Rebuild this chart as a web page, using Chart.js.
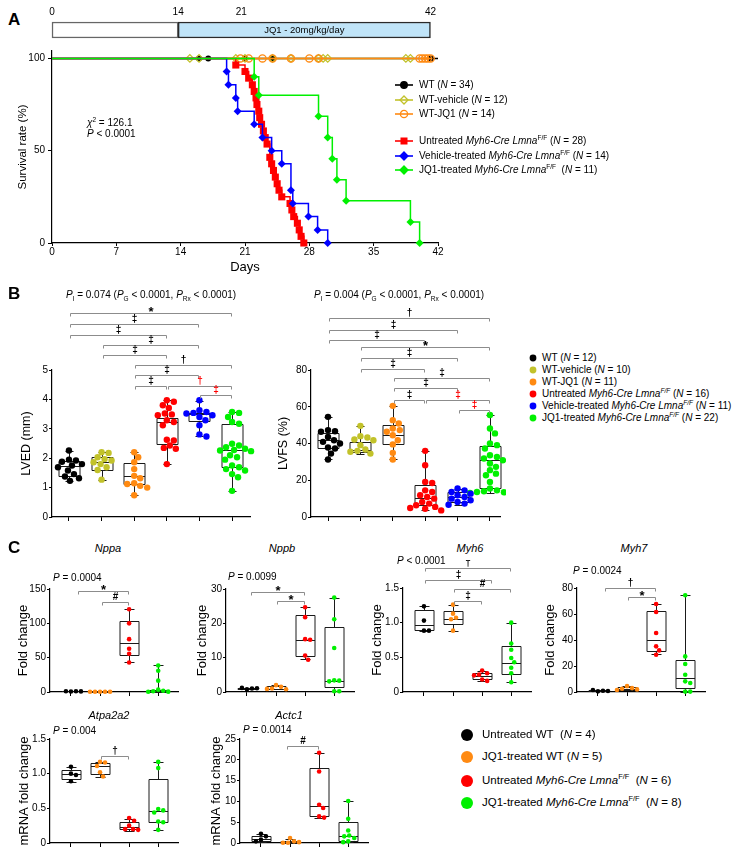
<!DOCTYPE html>
<html>
<head>
<meta charset="utf-8">
<script src="https://cdn.jsdelivr.net/npm/chart.js@4.4.1/dist/chart.umd.min.js"></script>
<style>
  body { margin: 0; width: 738px; height: 867px; position: relative; overflow: hidden; background: #fff;
         font-family: "Liberation Sans", Arial, Helvetica, sans-serif; color: #000; }
  canvas { position: absolute; }
  .t { position: absolute; white-space: nowrap; line-height: 1; font-size: 10px; }
  .t sub, .t sup { font-size: 65%; line-height: 0; }
  svg { position: absolute; overflow: visible; }
</style>
</head>
<body>
<script>
// ---------------- panel A : survival ----------------
const kmTicks = [0, 7, 14, 21, 28, 35, 42];
const kmYTicks = [0, 50, 100];
const timelineTicks = [0, 14, 21, 42];
const timelinePre = [0, 14];
const timelineDose = [14, 42];

const untreatedDays = [20.0, 21.0, 21.4, 21.8, 22.0, 22.2, 22.3, 22.5, 22.6, 22.8, 23.0, 23.2, 23.4, 23.7, 23.9, 24.1, 24.3, 24.5, 24.7, 25.0, 25.9, 26.1, 26.3, 26.7, 26.9, 27.1, 27.4];
const untreatedSurv = [96.4, 92.9, 89.3, 85.7, 82.1, 78.6, 75.0, 71.4, 67.9, 64.3, 60.7, 57.1, 53.6, 46.4, 42.9, 39.3, 35.7, 32.1, 28.6, 25.0, 21.4, 17.9, 14.3, 10.7, 7.1, 3.6, 0];
const vehicleDays = [19.0, 19.2, 20.0, 20.2, 22.0, 22.9, 23.9, 25.0, 26.0, 26.2, 27.9, 28.9, 30.0];
const vehicleSurv = [92.9, 85.7, 78.6, 71.4, 64.3, 57.1, 50.0, 42.9, 28.6, 21.4, 14.3, 7.1, 0];
const jq1Days = [22.0, 22.5, 29.0, 30.0, 30.5, 31.0, 32.0, 39.0, 40.0];
const jq1Surv = [90, 80, 68.6, 57.1, 45.7, 34.3, 22.9, 11.4, 0];
const censorWT = [16, 17, 21, 24, 41.2];
const censorWTveh = [15, 16, 20, 21, 24, 26, 29, 29.5, 30, 38.5, 39];
const censorWTjq1 = [20.5, 21.4, 22.9, 24, 26, 28, 29, 40, 40.3, 40.6, 40.9, 41.2];

// ---------------- panel B : echo ----------------
const lvedTicks = [0, 1, 2, 3, 4, 5];
const lvedPoints = [
  [2.26, 1.95, 1.92, 1.88, 1.8, 1.75, 1.69, 1.58, 1.46, 1.38, 1.32, 1.23],
  [2.2, 2.18, 2.03, 1.97, 1.92, 1.86, 1.8, 1.69, 1.6, 1.27],
  [2.2, 2.03, 1.86, 1.63, 1.4, 1.32, 1.15, 1.12, 1.06, 1.0, 0.74],
  [3.97, 3.92, 3.8, 3.71, 3.52, 3.49, 3.46, 3.29, 3.23, 3.12, 2.63, 2.6, 2.43, 2.35, 2.32, 1.8],
  [3.97, 3.63, 3.57, 3.54, 3.52, 3.46, 3.4, 3.29, 3.12, 2.81, 2.74],
  [3.57, 3.54, 3.4, 3.23, 3.17, 2.49, 2.43, 2.37, 2.32, 2.28, 2.26, 2.24, 2.1, 2.03, 1.95, 1.75, 1.69, 1.63, 1.58, 1.46, 1.35, 0.89]
];
// min, q1, median, q3, max
const lvedBoxes = [
  [1.22, 1.4, 1.72, 1.9, 2.26], [1.27, 1.6, 1.86, 2.03, 2.2], [0.75, 1.12, 1.4, 1.83, 2.2],
  [1.8, 2.49, 3.23, 3.38, 3.98], [2.74, 3.27, 3.5, 3.55, 3.96], [0.9, 1.69, 2.28, 3.15, 3.57]
];
const lvfsTicks = [0, 20, 40, 60, 80];
const lvfsPoints = [
  [54.5, 47.3, 46.7, 46.4, 43.6, 41.8, 40.9, 40, 37.8, 37.3, 34.5, 31.3],
  [49.6, 44, 43.3, 42.2, 41.8, 39.1, 36.7, 36, 35.5, 34.5],
  [60.5, 52.7, 50.9, 48.2, 47.3, 46.4, 44.5, 41.8, 39.5, 34.9, 31.3],
  [36, 28.2, 19.1, 18.5, 14.5, 13.6, 11.8, 10.9, 10, 8.2, 7.3, 6.4, 5.5, 4.9, 4.5, 3.6],
  [15.5, 14.5, 13.6, 12.7, 11.8, 10.9, 10, 9.1, 8.2, 7.3, 6.7],
  [55.5, 48.2, 45.5, 40, 39.1, 37.3, 33.6, 32.7, 31.8, 30.9, 29.1, 27.3, 25.5, 23.6, 22.7, 19.1, 15.5, 14.5, 14, 13.6, 13.5, 13.1]
];
const lvfsBoxes = [
  [31.3, 37.5, 41.8, 45.5, 54.5], [34.2, 35.5, 36.4, 40.9, 49.6], [31.3, 39.5, 44.5, 50, 60.5],
  [3.6, 6.4, 10.4, 17.3, 36], [6.7, 8.2, 10.9, 13.6, 15.5], [13.1, 16, 30.9, 38.5, 55.5]
];

// ---------------- panel C : qPCR ----------------
const nppaTicks = [0, 50, 100, 150];
const nppaPoints = [[0.8, 1.2, 1.0, 0.9], [0.3, 0.3, 0.3, 0.3, 0.3], [120.5, 100, 77, 63, 55.6, 43], [38.7, 31, 16.5, 3.4, 1.9, 1, 0.5, 0.3]];
const nppaBoxes = [[0.8, 0.85, 0.95, 1.1, 1.2], [0.3, 0.3, 0.3, 0.3, 0.3], [43, 54, 71, 104, 121], [0.3, 0.6, 1.5, 3.2, 38.7]];
const nppbTicks = [0, 10, 20, 30];
const nppbPoints = [[0.8, 1.0, 1.2, 1.1], [2.0, 1.5, 1.0, 0.9, 0.8], [24.7, 21.8, 15.4, 15.2, 10.6, 9.4], [27.5, 21.2, 12.8, 3.4, 3.3, 3.1, 0.2, 0.2]];
const nppbBoxes = [[0.8, 0.9, 1.05, 1.15, 1.2], [0.8, 0.85, 1.0, 1.75, 2.0], [9.5, 10.5, 15.2, 22.3, 24.7], [0.2, 1.4, 3.3, 18.8, 27.5]];
const myh6Ticks = [0, 0.5, 1, 1.5];
const myh6Points = [[1.235, 1.03, 0.885, 0.885], [1.26, 1.13, 1.07, 1.05, 0.885], [0.31, 0.27, 0.25, 0.24, 0.18, 0.16], [1.0, 0.7, 0.61, 0.49, 0.43, 0.35, 0.27, 0.14]];
const myh6Boxes = [[0.88, 0.9, 0.96, 1.18, 1.235], [0.88, 0.98, 1.05, 1.17, 1.26], [0.16, 0.19, 0.23, 0.28, 0.31], [0.14, 0.26, 0.42, 0.67, 1.0]];
const myh7Ticks = [0, 20, 40, 60, 80];
const myh7Points = [[0.5, 1.0, 1.5, 0.8], [4.5, 3, 2.5, 2, 1.5], [67.7, 61.5, 45.4, 35.1, 32, 28.7], [74.4, 27.4, 21.5, 13.3, 8.2, 6.9, 0.3, 0.3]];
const myh7Boxes = [[0.4, 0.5, 0.9, 1.3, 1.5], [1.5, 1.8, 2.5, 4, 4.5], [29.5, 31.8, 40.3, 62.6, 67.7], [0, 3.1, 10.8, 24.9, 74.4]];
const atpTicks = [0, 0.5, 1, 1.5];
const atpPoints = [[1.1, 1.0, 0.98, 0.89], [1.17, 1.16, 1.11, 1.02, 0.96], [0.36, 0.32, 0.25, 0.2, 0.2, 0.19], [1.17, 1.08, 0.49, 0.47, 0.44, 0.31, 0.3, 0.19]];
const atpBoxes = [[0.88, 0.92, 1.0, 1.05, 1.1], [0.95, 1.0, 1.11, 1.16, 1.17], [0.18, 0.2, 0.23, 0.3, 0.35], [0.19, 0.3, 0.46, 0.92, 1.17]];
const actcTicks = [0, 5, 10, 15, 20, 25];
const actcPoints = [[2.2, 1.6, 0.8, 0.4], [1.2, 0.4, 0.05, 0.05, 0.2], [21.7, 17.2, 9.2, 8.4, 6.4, 6.1], [10.1, 5.8, 3.0, 1.8, 1.6, 1.2, 0.4, 0.2]];
const actcBoxes = [[0.3, 0.4, 1.0, 1.6, 2.2], [0, 0.05, 0.2, 0.5, 1.0], [5.9, 6.4, 8.8, 18.1, 21.7], [0.2, 0.6, 1.6, 5.0, 10.1]];

// ---------------- styling ----------------
const FONT = '"Liberation Sans", Arial, Helvetica, sans-serif';
Chart.defaults.font.family = FONT;
Chart.defaults.color = '#000';
Chart.defaults.animation = false;
Chart.defaults.plugins.legend.display = false;
Chart.defaults.plugins.tooltip.enabled = false;

const BLACK = '#000000', OLIVE = '#c2c22a', ORANGE = '#ff8a12', RED = '#ff0000', BLUE = '#0000ff', GREEN = '#00f000';
const colorsB = [BLACK, OLIVE, ORANGE, RED, BLUE, GREEN];
const colorsC = [BLACK, ORANGE, RED, GREEN];

function place(cv, g, yw) {
  const w = Math.round(g.r - g.l + yw + g.pr), h = Math.round(g.b - g.t + g.pt + g.xh);
  cv.width = w; cv.height = h;
  cv.style.left = (g.l - yw) + 'px'; cv.style.top = (g.t - g.pt) + 'px';
  cv.style.width = w + 'px'; cv.style.height = h + 'px';
}
function newCanvas() {
  const c = document.createElement('canvas');
  document.body.appendChild(c);
  return c;
}
function text(x, y, html, css, center) {
  const d = document.createElement('div');
  d.className = 't';
  d.innerHTML = html;
  d.style.left = x + 'px'; d.style.top = y + 'px';
  d.style.transform = center ? 'translate(-50%,-50%)' : 'translateY(-50%)';
  if (css) d.style.cssText += css;
  document.body.appendChild(d);
}
function svg(x, y, w, h, inner) {
  document.body.insertAdjacentHTML('beforeend',
    `<svg style="left:${x}px;top:${y}px" width="${w}" height="${h}" viewBox="0 0 ${w} ${h}">${inner}</svg>`);
}

// ---------------- timeline bar ----------------
const tl = newCanvas();
tl.width = 398; tl.height = 37;
Object.assign(tl.style, {left: '42px', top: '2px', width: '398px', height: '37px'});
new Chart(tl, {
  type: 'bar',
  data: {
    labels: [''],
    datasets: [
      {data: [timelineDose], backgroundColor: '#c0e4f8', borderColor: '#2a2a2a', borderWidth: 1.5, borderSkipped: false, grouped: false, barPercentage: 1, categoryPercentage: 1, clip: false},
      {data: [timelinePre], backgroundColor: '#ffffff', borderColor: '#666', borderWidth: 1.5, borderSkipped: false, grouped: false, barPercentage: 1, categoryPercentage: 1, clip: false}
    ]
  },
  options: {
    indexAxis: 'y', responsive: false,
    layout: {padding: {left: 10, right: 2, top: 2, bottom: 1}},
    scales: {
      x: {type: 'linear', position: 'top', min: 0, max: 42,
          afterBuildTicks: s => { s.ticks = timelineTicks.map(v => ({value: v})); },
          afterFit: s => { s.height = 18; },
          ticks: {font: {size: 10}, padding: 4, autoSkip: false, maxRotation: 0},
          grid: {display: false, drawTicks: false}, border: {display: false}},
      y: {display: false}
    }
  },
  plugins: [{
    id: 'dose',
    afterDatasetsDraw(chart) {
      const {ctx, chartArea: a, scales: {x}} = chart;
      ctx.save();
      ctx.font = '9.5px ' + FONT; ctx.fillStyle = '#000'; ctx.textAlign = 'center'; ctx.textBaseline = 'middle';
      ctx.fillText('JQ1 - 20mg/kg/day', x.getPixelForValue((timelineDose[0] + timelineDose[1]) / 2), (a.top + a.bottom) / 2 + 0.5);
      ctx.restore();
    }
  }]
});

// ---------------- survival chart ----------------
function kmSeries(days, surv) {
  return [{x: 0, y: 100}].concat(days.map((d, i) => ({x: d, y: surv[i]})));
}
function censorSeries(days, end) {
  return [{x: 0, y: 100}].concat(days.map(d => ({x: d, y: 100})), [{x: end, y: 100}]);
}
const gA = {l: 52, r: 438, t: 50, b: 243, pt: 8, pr: 12, xh: 36, titleX: 23, titleSize: 11.5};
const cvA = newCanvas();
const ywA = Math.round(gA.l - (gA.titleX - gA.titleSize * 0.6 - 4));
place(cvA, gA, ywA);
function kmSet(data, color, style, r, fill, stepped, lastIdx) {
  return {
    data, stepped, borderColor: color, borderWidth: 1.5, fill: false, clip: false,
    pointStyle: style, pointBorderColor: color, pointBackgroundColor: fill ? color : 'rgba(0,0,0,0)',
    pointBorderWidth: fill ? 0 : 1.3,
    pointRadius: ctx => (ctx.dataIndex === 0 || ctx.dataIndex === lastIdx) ? 0 : r
  };
}
new Chart(cvA, {
  type: 'line',
  data: {
    datasets: [
      kmSet(kmSeries(jq1Days, jq1Surv), GREEN, 'rectRot', 4, true, true, -1),
      kmSet(kmSeries(vehicleDays, vehicleSurv), BLUE, 'rectRot', 4, true, true, -1),
      kmSet(kmSeries(untreatedDays, untreatedSurv), RED, 'rect', 5, true, true, -1),
      kmSet(censorSeries(censorWTjq1, 41.4), ORANGE, 'circle', 3.6, false, false, censorWTjq1.length + 1),
      kmSet(censorSeries(censorWTveh, 39.2), OLIVE, 'rectRot', 3.8, false, false, censorWTveh.length + 1),
      kmSet(censorSeries(censorWT, 42), BLACK, 'circle', 3, true, false, censorWT.length + 1)
    ]
  },
  options: {
    responsive: false,
    layout: {padding: {left: 0, top: gA.pt, right: gA.pr, bottom: 0}},
    scales: {
      x: {type: 'linear', min: 0, max: 42,
          afterBuildTicks: s => { s.ticks = kmTicks.map(v => ({value: v})); },
          afterFit: s => { s.height = gA.xh; },
          ticks: {font: {size: 10}, padding: 0, autoSkip: false, maxRotation: 0},
          grid: {drawOnChartArea: false, tickLength: 3, color: '#000'},
          border: {color: '#000', width: 1.2},
          title: {display: true, text: 'Days', font: {size: 13}, padding: {top: 0, bottom: 4}}},
      y: {min: 0, max: 104,
          afterBuildTicks: s => { s.ticks = kmYTicks.map(v => ({value: v})); },
          afterFit: s => { s.width = ywA; },
          ticks: {font: {size: 10}, padding: 3, autoSkip: false},
          grid: {drawOnChartArea: false, tickLength: 4, color: '#000'},
          border: {color: '#000', width: 1.2},
          title: {display: true, text: 'Survival rate (%)', font: {size: gA.titleSize}, padding: {top: 4, bottom: 4}}}
    }
  }
});

// ---------------- box plots ----------------
function swarm(pys, dmin) {
  const placed = [];
  return pys.map(py => {
    let off = 0;
    for (let k = 0; k < 80; k++) {
      const c = (k % 2 ? 1 : -1) * Math.ceil(k / 2);
      if (placed.every(p => (p[0] - c) ** 2 + (p[1] - py) ** 2 >= dmin * dmin)) { off = c; break; }
    }
    placed.push([off, py]);
    return off;
  });
}

function boxPlugin(boxes, brackets, st) {
  return {
    id: 'boxes',
    beforeDatasetsDraw(chart) {
      const {ctx, scales: {x, y}} = chart;
      ctx.save();
      ctx.strokeStyle = '#1a1a1a'; ctx.lineWidth = 1;
      boxes.forEach((s, i) => {
        const cx = Math.round(x.getPixelForValue(i)) + 0.5;
        const [mn, q1, md, q3, mx] = s.map(v => Math.round(y.getPixelForValue(v)) + 0.5);
        const hb = st.boxW / 2, hc = st.capW / 2;
        ctx.beginPath();
        ctx.rect(cx - hb, q3, st.boxW, q1 - q3);
        ctx.moveTo(cx - hb, md); ctx.lineTo(cx + hb, md);
        ctx.moveTo(cx, q3); ctx.lineTo(cx, mx);
        ctx.moveTo(cx - hc, mx); ctx.lineTo(cx + hc, mx);
        ctx.moveTo(cx, q1); ctx.lineTo(cx, mn);
        ctx.moveTo(cx - hc, mn); ctx.lineTo(cx + hc, mn);
        ctx.stroke();
      });
      ctx.restore();
    },
    afterDraw(chart) {
      const {ctx, chartArea: a, scales: {x}} = chart;
      ctx.save();
      brackets.forEach(([from, to, sym, dy, col]) => {
        const x1 = Math.round(x.getPixelForValue(from)) + 1.5, x2 = Math.round(x.getPixelForValue(to)) - 0.5;
        const yy = Math.round(a.top + dy) + 0.5;
        ctx.strokeStyle = '#8c8c8c'; ctx.lineWidth = 1;
        ctx.beginPath();
        ctx.moveTo(x1, yy + 3); ctx.lineTo(x1, yy); ctx.lineTo(x2, yy); ctx.lineTo(x2, yy + 3);
        ctx.stroke();
        ctx.fillStyle = col || '#000';
        ctx.textAlign = 'center'; ctx.textBaseline = 'bottom';
        if (sym === '*') { ctx.font = 'bold 13px ' + FONT; ctx.fillText(sym, (x1 + x2) / 2, yy + 5); }
        else { ctx.font = 'bold 10px ' + FONT; ctx.fillText(sym, (x1 + x2) / 2, yy - 0.5); }
      });
      ctx.restore();
    }
  };
}

function boxChart(g, ticks, yTitle, points, boxes, brackets, colors, st) {
  const cv = newCanvas();
  const yw = Math.round(g.l - (g.titleX - st.titleSize * 0.6 - 4));
  place(cv, g, yw);
  const yMax = ticks[ticks.length - 1];
  const catPx = (g.r - g.l) / (g.xMax - g.xMin);
  const pxPerUnit = (g.b - g.t) / yMax;
  const datasets = points.map((vals, i) => {
    const offs = swarm(vals.map(v => v * pxPerUnit), st.dmin);
    return {
      data: vals.map((v, j) => ({x: i + offs[j] / catPx, y: v})),
      backgroundColor: colors[i], borderColor: colors[i], pointRadius: st.r, pointBorderWidth: 0, clip: false
    };
  });
  new Chart(cv, {
    type: 'scatter',
    data: {datasets},
    options: {
      responsive: false,
      layout: {padding: {left: 0, top: g.pt, right: g.pr, bottom: 0}},
      scales: {
        x: {type: 'linear', min: g.xMin, max: g.xMax,
            afterBuildTicks: s => { s.ticks = boxes.map((_, i) => ({value: i})); },
            afterFit: s => { s.height = g.xh; },
            ticks: {display: false},
            grid: {drawOnChartArea: false, tickLength: 4, color: '#000'},
            border: {color: '#000', width: 1.2}},
        y: {min: 0, max: yMax,
            afterBuildTicks: s => { s.ticks = ticks.map(v => ({value: v})); },
            afterFit: s => { s.width = yw; },
            ticks: {font: {size: 10}, padding: 1, autoSkip: false},
            grid: {drawOnChartArea: false, tickLength: 3, color: '#000'},
            border: {color: '#000', width: 1.2},
            title: {display: true, text: yTitle, font: {size: st.titleSize}, padding: {top: 4, bottom: 4}}}
      }
    },
    plugins: [boxPlugin(boxes, brackets, st)]
  });
}

const stB = {r: 3.2, dmin: 6.4, boxW: 21, capW: 8, titleSize: 12.5};
const stC = {r: 2.3, dmin: 5, boxW: 19, capW: 10, titleSize: 13};

boxChart({l: 52, r: 250, t: 370, b: 517, pt: 75, pr: 6, xh: 8, titleX: 26.5, xMin: -0.52, xMax: 5.55},
  lvedTicks, 'LVED (mm)', lvedPoints, lvedBoxes,
  [[0, 5, '*', -57], [0, 4, '‡', -46], [0, 3, '‡', -35], [1, 4, '‡', -25], [1, 3, '‡', -15],
   [2, 5, '†', -5], [2, 4, '‡', 5], [2, 3, '‡', 16], [3, 5, '†', 16, RED], [4, 5, '‡', 25, RED]],
  colorsB, stB);
boxChart({l: 311, r: 500, t: 370, b: 517, pt: 75, pr: 6, xh: 8, titleX: 284, xMin: -0.525, xMax: 5.31},
  lvfsTicks, 'LVFS (%)', lvfsPoints, lvfsBoxes,
  [[0, 5, '†', -52], [0, 4, '‡', -40], [0, 3, '‡', -30], [1, 5, '*', -23], [1, 4, '‡', -12],
   [1, 3, '‡', -1], [2, 5, '‡', 8], [2, 4, '‡', 18], [2, 3, '‡', 30], [3, 5, '‡', 30, RED], [4, 5, '‡', 40, RED]],
  colorsB, stB);

function gC(l, t, b, titleX) {
  return {l, r: l + 4.4 * 29, t, b, pt: 28, pr: 4, xh: 8, titleX, xMin: -0.72, xMax: 3.68};
}
boxChart(gC(50, 589, 692, 24), nppaTicks, 'Fold change', nppaPoints, nppaBoxes,
  [[0.2, 2, '*', 2], [1.05, 2, '#', 13]], colorsC, stC);
boxChart(gC(226, 589, 692, 202.5), nppbTicks, 'Fold change', nppbPoints, nppbBoxes,
  [[0.1, 2, '*', 3], [1, 2, '*', 12]], colorsC, stC);
boxChart(gC(403, 588, 692, 377.5), myh6Ticks, 'Fold change', myh6Points, myh6Boxes,
  [[0, 3, '†', -20], [0, 2.35, '‡', -8], [1, 3, '#', 1], [1, 2, '‡', 13]], colorsC, stC);
boxChart(gC(577, 588, 692, 551), myh7Ticks, 'Fold change', myh7Points, myh7Boxes,
  [[0.2, 2, '†', 0], [1, 2, '*', 9]], colorsC, stC);
boxChart(gC(50, 739, 843, 25), atpTicks, 'mRNA fold change', atpPoints, atpBoxes,
  [[1, 2, '†', 17]], colorsC, stC);
boxChart(gC(240, 739, 843, 217), actcTicks, 'mRNA fold change', actcPoints, actcBoxes,
  [[0.85, 2, '#', 7]], colorsC, stC);

// ---------------- text & legends ----------------
text(8, 19, 'A', 'font-weight:bold;font-size:17px');
text(8, 293, 'B', 'font-weight:bold;font-size:17px');
text(8, 547, 'C', 'font-weight:bold;font-size:17px');

text(87, 123, '<i>χ</i><sup>2</sup> = 126.1');
text(87, 134, '<i>P</i> &lt; 0.0001');

const MC = '<i>Myh6-Cre Lmna</i>';
const legendA = [
  ['WT (<i>N</i> = 34)', BLACK, 'circle', true],
  ['WT-vehicle (<i>N</i> = 12)', OLIVE, 'diamond', false],
  ['WT-JQ1 (<i>N</i> = 14)', ORANGE, 'circle', false],
  [`Untreated ${MC}<sup>F/F</sup> (<i>N</i> = 28)`, RED, 'square', true],
  [`Vehicle-treated ${MC}<sup>F/F</sup> (<i>N</i> = 14)`, BLUE, 'diamond', true],
  [`JQ1-treated ${MC}<sup>F/F</sup>&nbsp; (<i>N</i> = 11)`, GREEN, 'diamond', true]
];
const legendAY = [85, 100, 114, 141, 156, 170];
legendA.forEach(([lab, col, shape, filled], i) => {
  const y = legendAY[i];
  const f = filled ? col : 'none';
  let m;
  if (shape === 'circle') m = `<circle cx="9" cy="6" r="${filled ? 3.3 : 3.6}" fill="${f}" stroke="${col}" stroke-width="1.3"/>`;
  else if (shape === 'square') m = `<rect x="5.5" y="2.5" width="7" height="7" fill="${col}"/>`;
  else m = `<path d="M9 2 L13 6 L9 10 L5 6 Z" fill="${f}" stroke="${col}" stroke-width="1.3"/>`;
  svg(395, y - 6, 18, 12, `<line x1="0" y1="6" x2="18" y2="6" stroke="${col}" stroke-width="1.6"/>${m}`);
  text(419, y, lab);
});

text(151, 295, '<i>P</i><sub>I</sub> = 0.074 (<i>P</i><sub>G</sub> &lt; 0.0001, <i>P</i><sub>Rx</sub> &lt; 0.0001)', '', true);
text(399, 295, '<i>P</i><sub>I</sub> = 0.004 (<i>P</i><sub>G</sub> &lt; 0.0001, <i>P</i><sub>Rx</sub> &lt; 0.0001)', '', true);

const MCi = '<i>Myh6-Cre Lmna<sup>F/F</sup></i>';
const legendB = ['WT (<i>N</i> = 12)', 'WT-vehicle (<i>N</i> = 10)', 'WT-JQ1 (<i>N</i> = 11)',
  `Untreated ${MCi} (<i>N</i> = 16)`, `Vehicle-treated ${MCi} (<i>N</i> = 11)`, `JQ1-treated ${MCi} (<i>N</i> = 22)`];
legendB.forEach((lab, i) => {
  const y = 358 + i * 12;
  svg(529, y - 4, 8, 8, `<circle cx="4" cy="4" r="3.4" fill="${colorsB[i]}"/>`);
  text(542, y, lab);
});

text(108, 548, '<i>Nppa</i>', 'font-size:11px', true);
text(282, 548, '<i>Nppb</i>', 'font-size:11px', true);
text(470, 548, '<i>Myh6</i>', 'font-size:11px', true);
text(634, 548, '<i>Myh7</i>', 'font-size:11px', true);
text(109, 715, '<i>Atpa2a2</i>', 'font-size:11px', true);
text(289, 715, '<i>Actc1</i>', 'font-size:11px', true);
text(53, 578, '<i>P</i> = 0.0004');
text(228, 577, '<i>P</i> = 0.0099');
text(397, 561, '<i>P</i> &lt; 0.0001');
text(573, 571, '<i>P</i> = 0.0024');
text(53, 731, '<i>P</i> = 0.004');
text(243, 730, '<i>P</i> = 0.0014');

const legendC = ['Untreated WT&nbsp; (<i>N</i> = 4)', 'JQ1-treated WT (<i>N</i> = 5)',
  `Untreated <i>Myh6-Cre Lmna</i><sup>F/F</sup>&nbsp; (<i>N</i> = 6)`, `JQ1-treated <i>Myh6-Cre Lmna</i><sup>F/F</sup>&nbsp; (<i>N</i> = 8)`];
const legendCY = [735, 757, 781, 803];
legendC.forEach((lab, i) => {
  svg(461, legendCY[i] - 6, 12, 12, `<circle cx="6" cy="6" r="6" fill="${colorsC[i]}"/>`);
  text(482, legendCY[i], lab, 'font-size:11.5px');
});
</script>
</body>
</html>
